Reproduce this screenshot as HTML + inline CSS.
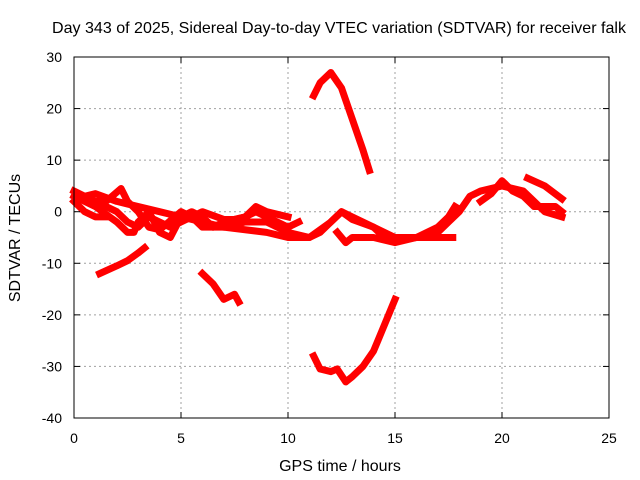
<!DOCTYPE html>
<html><head><meta charset="utf-8"><style>
body{margin:0;background:#fff}
svg{display:block;font-family:"Liberation Sans",sans-serif}
</style></head><body>
<svg id="chart" width="640" height="480">
<text x="339" y="33" text-anchor="middle" font-size="16" textLength="574" lengthAdjust="spacingAndGlyphs">Day 343 of 2025, Sidereal Day-to-day VTEC variation (SDTVAR) for receiver falk</text>
<g id="grid"></g>
<g id="data"></g>
<rect x="74" y="57" width="535" height="361" fill="none" stroke="#000" stroke-width="1"/>
<g id="ticks"></g>
<text x="340" y="471" text-anchor="middle" font-size="16">GPS time / hours</text>
<text transform="translate(20,238) rotate(-90)" text-anchor="middle" font-size="16">SDTVAR / TECUs</text>
</svg>
<script>
const xTicks=[0,5,10,15,20,25];
const yTicks=[30,20,10,0,-10,-20,-30,-40];
const tracks=[
[[0,4],[0.5,3],[1,3.5],[2,2],[3,1],[4,0],[5,-1],[6,-2],[7,-3],[8,-3.5],[9,-4],[10,-5],[11,-5],[12,-2],[12.5,0],[13,-1],[14,-3],[15,-5],[16,-5],[17,-4],[17.5,-2],[18,0],[18.5,3],[19,4],[20,5],[21,4],[21.5,2],[22,0],[22.8,-1]],
[[0,2],[0.5,0],[1,-1],[1.5,-1]],
[[0,3],[1,1],[1.5,-0.5],[2,-2],[2.5,-4],[2.8,-4],[3,-2],[3.5,0],[4,-4],[4.5,-5],[5,-1],[5.5,0],[6,-1],[6.5,-3],[7,-2],[8,-1],[8.5,0],[9,-1],[10,-3],[10.5,-2]],
[[0.3,3],[1,2],[1.5,2],[2.2,4.5],[2.5,2],[3,0],[3.5,-3],[4,-3.5],[5,0],[5.5,-1],[6,-3],[7,-3],[8,-2],[9,-2],[10,-4],[11,-5],[11.5,-4],[12,-2],[12.5,0],[13,-1.5],[14,-3],[14.5,-5],[15,-5.5],[16,-5],[17,-5],[17.7,-5]],
[[1,2],[2,0],[2.5,-2],[3,-3],[3.5,-1],[4,-2],[4.5,-3],[5,-2],[6,0],[7,-1.5],[7.5,-1.5],[8,-1],[8.5,1],[9,0],[10,-1]],
[[12.3,-4],[12.7,-6],[13,-5],[14,-5],[15,-6],[16,-5],[17,-3],[17.5,-1],[17.8,1]],
[[19,2],[19.5,3.5],[20,6],[20.5,4],[21,3],[21.5,1],[22.5,1],[22.8,0]],
[[21.2,6.5],[22,5],[22.8,2.5]],
[[1.2,-12],[2,-10.5],[2.5,-9.5],[3,-8],[3.3,-7]],
[[6,-12],[6.5,-14],[7,-17],[7.5,-16],[7.7,-17.5]],
[[11.2,22.5],[11.5,25],[12,27],[12.5,24],[13,18],[13.5,12],[13.8,8]],
[[11.2,-28],[11.5,-30.5],[12,-31],[12.3,-30.5],[12.7,-33],[13,-32],[13.5,-30],[14,-27],[14.5,-22],[15,-17]]
];
const NS="http://www.w3.org/2000/svg";
const X=h=>74+h*535/25, Y=v=>57+(30-v)*361/70;
const grid=document.getElementById('grid'),ticks=document.getElementById('ticks'),data=document.getElementById('data');
function mk(tag,a,p){const e=document.createElementNS(NS,tag);for(const k in a)e.setAttribute(k,a[k]);p.appendChild(e);return e;}
xTicks.forEach(t=>{const x=X(t);
 if(t>0&&t<25){const l=mk('line',{x1:x,x2:x,y1:57,y2:418,stroke:'#a0a0a0','stroke-dasharray':'2,3'},grid);
 
 }
 mk('line',{x1:x,x2:x,y1:418,y2:412,stroke:'#000'},ticks);mk('line',{x1:x,x2:x,y1:57,y2:63,stroke:'#000'},ticks);
 const tx=mk('text',{x:x,y:443,'text-anchor':'middle','font-size':14},ticks);tx.textContent=t;
 
 });
yTicks.forEach(t=>{const y=Y(t);
 if(t<30&&t>-40){const l=mk('line',{x1:74,x2:609,y1:y,y2:y,stroke:'#a0a0a0','stroke-dasharray':'2,3'},grid);
 
 }
 mk('line',{x1:74,x2:80,y1:y,y2:y,stroke:'#000'},ticks);mk('line',{x1:609,x2:603,y1:y,y2:y,stroke:'#000'},ticks);
 const tx=mk('text',{x:62,y:y+5,'text-anchor':'end','font-size':14},ticks);tx.textContent=t;
 
 });
tracks.forEach(tr=>{const p=mk('polyline',{points:tr.map(d=>X(d[0])+','+Y(d[1])).join(' '),fill:'none',stroke:'#f00','stroke-width':7,'stroke-linejoin':'round','stroke-linecap':'square'},data);
 
 });
</script>
</body></html>
